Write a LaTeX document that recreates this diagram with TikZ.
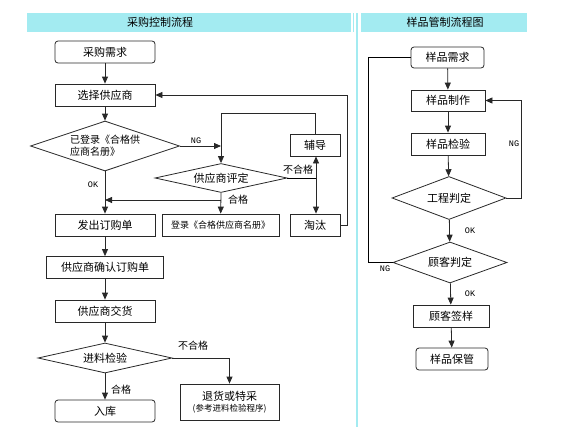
\documentclass[tikz,border=0pt]{standalone}
\usepackage{fontspec}
\setmainfont{Noto Sans CJK SC}
\newfontfamily\tagfont{Liberation Mono}
\usetikzlibrary{shapes.geometric,arrows.meta}

\definecolor{barcyan}{RGB}{163,235,241}
\definecolor{inkgray}{RGB}{40,40,40}

\tikzstyle{box} = [draw=inkgray,rectangle,inner sep=0pt,minimum height=22pt,font=\fontsize{11}{12}\selectfont]
\tikzstyle{rbox} = [box,rounded corners=3pt]
\tikzstyle{test} = [draw=inkgray,diamond,inner sep=0pt,font=\fontsize{11}{12}\selectfont]
\tikzstyle{flow} = [draw=inkgray,-{Triangle[length=7pt,width=6pt]}]
\tikzstyle{tag} = [inner sep=1pt,font=\fontsize{10}{10}\selectfont]
\tikzstyle{okng} = [inner sep=1pt,font=\tagfont\fontsize{8.5}{8.5}\selectfont]

\begin{document}
\begin{tikzpicture}[x=1pt,y=-1pt,line width=0.8pt]
	\useasboundingbox (0,0) rectangle (569,447);
	
	% header bars
	\fill[barcyan] (27,13) rectangle (351,32);
	\fill[barcyan] (361,13) rectangle (527,32);
	\draw[barcyan,line width=1.8pt] (357,13) -- (357,427);
	\draw[barcyan,line width=0.8pt] (353,13) -- (353,32);
	\node[font=\fontsize{11}{12}\selectfont] (h1) at (160,22) {采购控制流程};
	\node[font=\fontsize{11}{12}\selectfont] (h2) at (445,22) {样品管制流程图};
	
	% left flow
	\node[rbox,minimum width=100pt] (a1) at (105,52) {采购需求};
	\node[box,minimum width=100pt] (a2) at (105,95) {选择供应商};
	\node[test,minimum width=149pt,minimum height=50pt,shape aspect=3,align=left,font=\fontsize{10}{12}\selectfont] (a3) at (105,146) {已登录《合格供\\应商名册》};
	\node[test,minimum width=132pt,minimum height=29pt,shape aspect=4.5] (a4) at (221,178) {供应商评定};
	\node[box,minimum width=50pt] (a5) at (315,145) {辅导};
	\node[box,minimum width=50pt] (a6) at (315,225) {淘汰};
	\node[box,minimum width=100pt] (a7) at (105,225) {发出订购单};
	\node[box,minimum width=117pt,font=\fontsize{9}{10}\selectfont] (a8) at (220.5,225) {登录《合格供应商名册》};
	\node[box,minimum width=117pt] (a9) at (105,267.5) {供应商确认订购单};
	\node[box,minimum width=100pt] (a10) at (105,311) {供应商交货};
	\node[test,minimum width=134pt,minimum height=30pt,shape aspect=4.5] (a11) at (105,358) {进料检验};
	\node[rbox,minimum width=100pt] (a12) at (105,411) {入库};
	\node[box,minimum width=99pt,minimum height=36pt,align=center] (a13) at (229.5,402) {退货或特采\\[-1pt]{\fontsize{8.5}{10}\selectfont(参考进料检验程序)}};
	
	\coordinate (c1) at (221,113);
	\coordinate (c2) at (316,178);
	\coordinate (c3) at (105,200);
	
	\draw[flow] (a1) -- (a2);
	\draw[flow] (a2) -- (a3);
	\draw[flow] (a3) -- (a7);
	\draw[flow] (a3.east) -- (a3.east -| a4);
	\draw[flow] (a5.north) |- (c1) -- (a4.north);
	\draw (a4.east) -- (c2);
	\draw[flow] (c2) -- (a5.south -| c2);
	\draw[flow] (c2) -- (a6.north -| c2);
	\draw[flow] (a4.south) -- (a8);
	\draw[flow] (a4.south |- c3) -- (c3);
	\draw[flow] (a6.east) -- ++(7,0) |- (a2.east);
	\draw[flow] (a7) -- (a9);
	\draw[flow] (a9) -- (a10);
	\draw[flow] (a10) -- (a11);
	\draw[flow] (a11) -- (a12);
	\draw[flow] (a11.east) -| (a13.north);
	
	\node[okng] (t1) at (196,141) {NG};
	\node[okng] (t2) at (93,185) {OK};
	\node[tag] (t3) at (298,170) {不合格};
	\node[tag] (t4) at (238,200) {合格};
	\node[tag] (t5) at (193,346) {不合格};
	\node[tag] (t6) at (121,390) {合格};
	
	% right flow
	\node[rbox,minimum width=73pt,minimum height=21pt] (b1) at (447.5,57.5) {样品需求};
	\node[box,minimum width=74pt,minimum height=21pt] (b2) at (448,100.5) {样品制作};
	\node[box,minimum width=74pt] (b3) at (448,144) {样品检验};
	\node[test,minimum width=114pt,minimum height=43pt,shape aspect=3.5] (b4) at (449,198) {工程判定};
	\node[test,minimum width=114pt,minimum height=41pt,shape aspect=3.5] (b5) at (450,262.5) {顾客判定};
	\node[box,minimum width=76pt] (b6) at (451,316) {顾客签样};
	\node[rbox,minimum width=72pt] (b7) at (452,359) {样品保管};
	
	\draw[flow] (b1) -- (b2);
	\draw[flow] (b2) -- (b3);
	\draw[flow] (b3) -- (b4);
	\draw[flow] (b4) -- (b5);
	\draw[flow] (b5) -- (b6);
	\draw[flow] (b6) -- (b7);
	\draw[flow] (b4.east) -- ++(15,0) |- (b2.east);
	\draw (b5.west) -- ++(-24,0) |- (b1.west);
	
	\node[okng] (t7) at (514,144) {NG};
	\node[okng] (t8) at (470,231) {OK};
	\node[okng] (t9) at (385,269) {NG};
	\node[okng] (t10) at (470,294) {OK};
\end{tikzpicture}
\end{document}
